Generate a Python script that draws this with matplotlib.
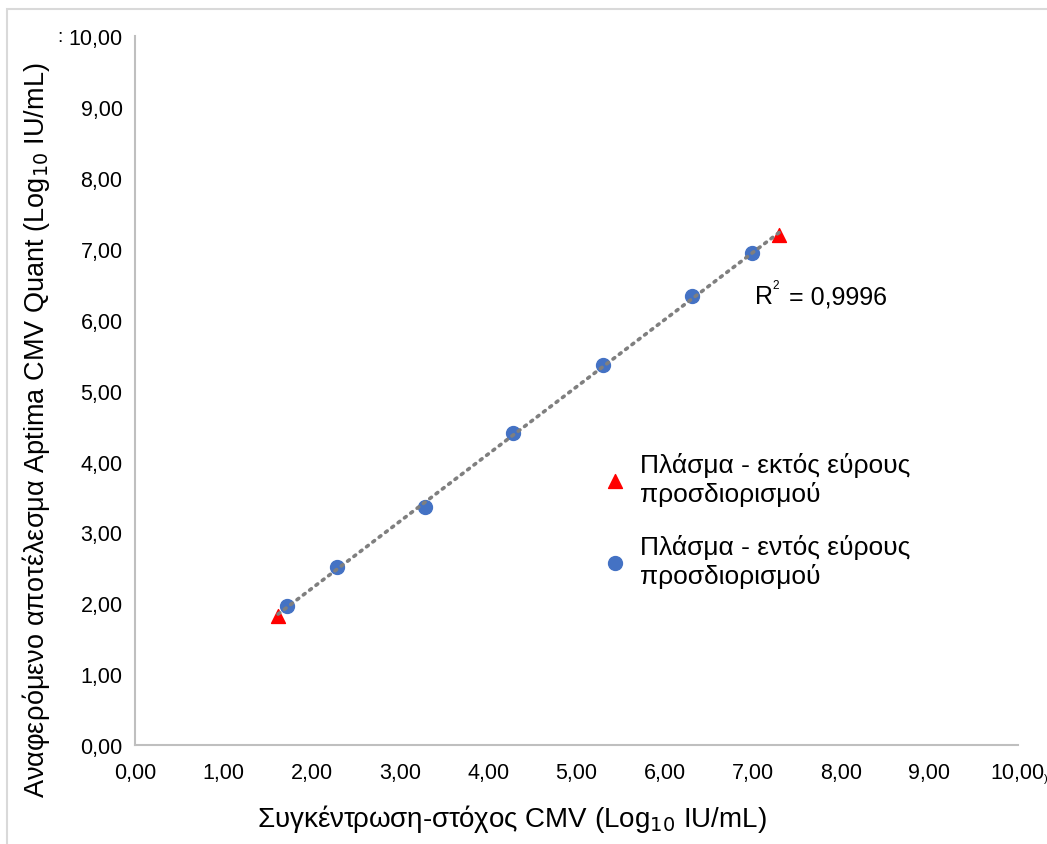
import numpy as np
import matplotlib.pyplot as plt
from matplotlib.patches import Rectangle

plt.rcParams['font.family'] = ['Liberation Sans', 'DejaVu Sans']

# in-range plasma points (target vs reported, Log10 IU/mL)
in_x = [1.72, 2.29, 3.28, 4.28, 5.30, 6.31, 6.99]
in_y = [1.96, 2.51, 3.36, 4.40, 5.36, 6.33, 6.94]
# out-of-range plasma points
out_x = [1.62, 7.30]
out_y = [1.82, 7.19]

ticks = np.arange(0, 11, 1)
tick_labels = ['%d,00' % t for t in ticks]

fig = plt.figure(figsize=(10.47, 8.45), dpi=100)
ax = fig.add_axes([0.129, 0.117, 0.843, 0.839])

# trendline over all points
all_x = np.array(in_x + out_x)
all_y = np.array(in_y + out_y)
k, b = np.polyfit(all_x, all_y, 1)
xs = np.array([all_x.min(), all_x.max()])
ax.plot(xs, k * xs + b, color='#7f7f7f', lw=2.6, ls=(0, (0.6, 1.6)),
        dash_capstyle='round', zorder=3)

ax.scatter(out_x, out_y, marker='^', s=100, color='#ff0000', zorder=2,
           label='Πλάσμα - εκτός εύρους\nπροσδιορισμού')
ax.scatter(in_x, in_y, marker='o', s=100, color='#4472c4', zorder=2,
           label='Πλάσμα - εντός εύρους\nπροσδιορισμού')

ax.set_xlim(0, 10)
ax.set_ylim(0, 10)
ax.set_xticks(ticks)
ax.set_yticks(ticks)
ax.set_xticklabels(tick_labels)
ax.set_yticklabels(tick_labels)
ax.tick_params(length=0, labelsize=15.5)
ax.tick_params(axis='x', pad=12)
ax.tick_params(axis='y', pad=9)
for s in ['top', 'right']:
    ax.spines[s].set_visible(False)
for s in ['left', 'bottom']:
    ax.spines[s].set_color('#bfbfbf')
    ax.spines[s].set_linewidth(1.5)

ax.set_xlabel('Συγκέντρωση-στόχος CMV (Log$_{10}$ IU/mL)', fontsize=20)
ax.set_ylabel('Αναφερόμενο αποτέλεσμα Aptima CMV Quant (Log$_{10}$ IU/mL)',
              fontsize=19.5)
ax.xaxis.set_label_coords(0.427, -0.080)
ax.yaxis.set_label_coords(-0.094, 0.446)

# R² label with a small superscript
ax.text(7.02, 6.33, 'R', fontsize=18, va='center', ha='left')
ax.annotate('2', (7.02, 6.33), xytext=(13, 4), textcoords='offset points',
            fontsize=8.5, va='bottom', ha='left')
ax.annotate('= 0,9996', (7.02, 6.33), xytext=(25, 0), textcoords='offset points',
            fontsize=18, va='center', ha='left')

ax.legend(loc='upper left', bbox_to_anchor=(0.529, 0.414), frameon=False,
          fontsize=19, labelspacing=1.07, handlelength=1.0, handletextpad=0.45,
          borderpad=0, borderaxespad=0)

# cropped remnants at the edges of the original picture
fig.text(60 / 1047, 1 - 38 / 845, ':', fontsize=14, va='center', ha='center')
fig.text(1045.5 / 1047, 1 - 779 / 845, ')', fontsize=8, va='center', ha='center')

# figure frame
fig.patches.append(Rectangle((7 / 1047, -0.1), 1.2, 1 - 10 / 845 + 0.1,
                             transform=fig.transFigure, fill=False,
                             edgecolor='#d9d9d9', lw=1.5))

fig.savefig('out.png', dpi=100)
